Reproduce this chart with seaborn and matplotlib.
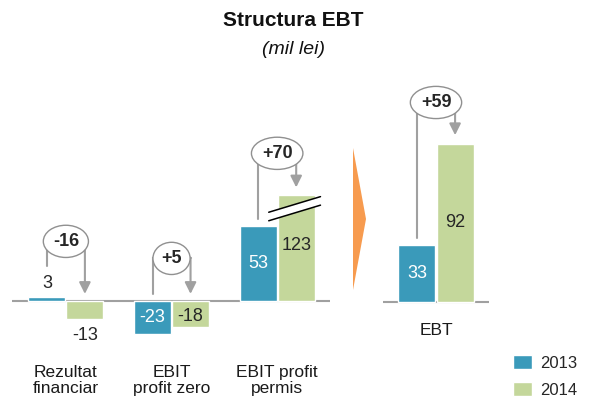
import pandas as pd
import matplotlib.pyplot as plt
import seaborn as sns
from matplotlib.patches import Polygon

sns.set_theme(style='white')
plt.rcParams['font.family'] = ['Liberation Sans', 'DejaVu Sans']

# data (mil lei)
categories = ['Rezultat\nfinanciar', 'EBIT\nprofit zero', 'EBIT profit\npermis']
values_2013 = [3, -23, 53]
values_2014 = [-13, -18, 123]
ebt_2013 = [33]
ebt_2014 = [92]
ebt_label = ['EBT']
diff_labels = ['-16', '+5', '+70']
ebt_diff = ['+59']
years = ['2013', '2014']
cap_2014 = 75  # the 123 bar is drawn cut (broken axis)

C13 = '#3A9ABA'
C14 = '#C4D79B'
GREY = '#A0A0A0'
W, H = 591, 404
FS = 13


def px_axes(x0, x1, y0, y1):
    return fig.add_axes([x0 / W, 1 - y1 / H, (x1 - x0) / W, (y1 - y0) / H])


df = pd.DataFrame({
    'cat': categories * 2,
    'year': [years[0]] * 3 + [years[1]] * 3,
    'val': values_2013 + [min(v, cap_2014) for v in values_2014],
})
df_ebt = pd.DataFrame({'cat': ebt_label * 2, 'year': years, 'val': ebt_2013 + ebt_2014})

fig = plt.figure(figsize=(W / 100, H / 100), dpi=100)
ax = px_axes(12, 330, 120, 340)
ax2 = px_axes(383, 489, 80, 315)

sns.barplot(data=df, x='cat', y='val', hue='year', palette=[C13, C14],
            width=0.72, gap=0.03, ax=ax, legend=False, saturation=1)
sns.barplot(data=df_ebt, x='cat', y='val', hue='year', palette=[C13, C14],
            width=0.72, gap=0.03, ax=ax2, legend=False, saturation=1)

ax.set_xlim(-0.51, 2.5)
ax.set_ylim(-(340 - 301) / 1.42, (301 - 120) / 1.42)
ax2.set_xlim(-0.5, 0.5)
ax2.set_ylim(-(315 - 302) / 1.72, (302 - 80) / 1.72)

for a, pad in ((ax, 18), (ax2, 6)):
    sns.despine(ax=a, left=True, bottom=True)
    a.axhline(0, color=GREY, lw=1.5, zorder=0)
    a.set_yticks([])
    a.set_xlabel('')
    a.set_ylabel('')
    a.tick_params(axis='x', length=0, pad=pad, labelsize=12.5, labelcolor='#1a1a1a')
    for t in a.get_xticklabels():
        t.set_multialignment('center')
        t.set_linespacing(1.05)

off = 0.18
# value labels
ax.text(0 - off, values_2013[0] + 9, str(values_2013[0]), ha='center', va='center', fontsize=FS)
ax.text(0 + off, values_2014[0] - 11, str(values_2014[0]), ha='center', va='center', fontsize=FS)
ax.text(1 - off, values_2013[1] / 2, str(values_2013[1]), ha='center', va='center', fontsize=FS, color='white')
ax.text(1 + off, values_2014[1] / 2 - 2, str(values_2014[1]), ha='center', va='center', fontsize=FS)
ax.text(2 - off, values_2013[2] / 2, str(values_2013[2]), ha='center', va='center', fontsize=FS, color='white')
ax.text(2 + off, 39, str(values_2014[2]), ha='center', va='center', fontsize=FS)
ax2.text(-off, ebt_2013[0] / 2, str(ebt_2013[0]), ha='center', va='center', fontsize=FS, color='white')
ax2.text(off, ebt_2014[0] / 2, str(ebt_2014[0]), ha='center', va='center', fontsize=FS)

# break marks on the cut bar
x0, x1 = 1.92, 2.41
ax.add_patch(Polygon([[x0, 62.5], [x1, 73.5], [x1, 67.5], [x0, 56.5]], closed=True,
                     fc='white', ec='none', zorder=5))
ax.plot([x0, x1], [62.5, 73.5], color='black', lw=1.1, zorder=6)
ax.plot([x0, x1], [56.5, 67.5], color='black', lw=1.1, zorder=6)


def bracket(a, xc, start, level, tip, label):
    xl, xr = xc - off, xc + off
    a.plot([xl, xl, xr], [start, level, level], color=GREY, lw=1.5, zorder=3,
           solid_joinstyle='miter')
    a.annotate('', xy=(xr, tip), xytext=(xr, level + 0.5),
               arrowprops=dict(arrowstyle='-|>', color=GREY, lw=1.5,
                               mutation_scale=17, shrinkA=0, shrinkB=0), zorder=3)
    a.text(xc, level, label, ha='center', va='center', fontsize=FS, fontweight='bold',
           zorder=4, bbox=dict(boxstyle='ellipse,pad=0.16', fc='white', ec='#909090', lw=1))


bracket(ax, 0, 25, 42, 5, diff_labels[0])
bracket(ax, 1, 5, 30, 5, diff_labels[1])
bracket(ax, 2, 58, 104, 80, diff_labels[2])
bracket(ax2, 0, 37, 116, 97, ebt_diff[0])

# orange chevron between panels
fig.add_artist(Polygon([[353 / W, 1 - 148 / H], [366 / W, 1 - 219 / H], [353 / W, 1 - 290 / H]],
                       closed=True, transform=fig.transFigure, fc='#F79B4F', ec='none'))

fig.text(293 / W, 1 - 21 / H, 'Structura EBT', ha='center', va='center',
         fontsize=15, fontweight='bold', color='#111111')
fig.text(293 / W, 1 - 50 / H, '(mil lei)', ha='center', va='center',
         fontsize=14, style='italic', color='#111111')

handles = [plt.Rectangle((0, 0), 1, 1, fc=C13), plt.Rectangle((0, 0), 1, 1, fc=C14)]
fig.legend(handles, years, loc='upper left', bbox_to_anchor=(513 / W, 1 - 355 / H),
           frameon=False, fontsize=12, handlelength=1.15, handleheight=0.95,
           handletextpad=0.5, labelspacing=0.65, borderpad=0, borderaxespad=0)

fig.savefig('out.png', dpi=100)
